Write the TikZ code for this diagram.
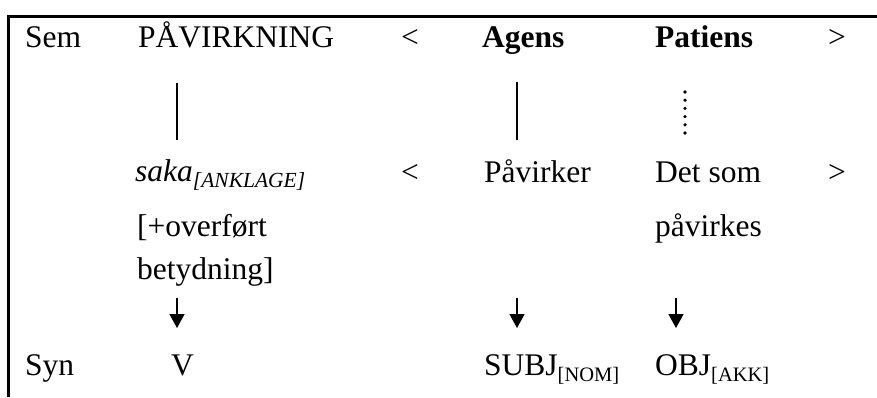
\documentclass[tikz,border=0pt]{standalone}
\usepackage{fontspec}
\setmainfont{Liberation Serif}
\usetikzlibrary{arrows.meta}
\newcommand{\subtext}[1]{\raisebox{-6pt}{\fontsize{20.5}{24}\selectfont #1}}

\begin{document}
\begin{tikzpicture}[x=1pt,y=-1pt,
   every node/.style={anchor=base west,inner sep=0pt,font=\fontsize{31.5}{36}\selectfont},
   frame/.style={line width=2.6pt},
   link/.style={line width=1.6pt},
   dots/.style={line width=3.6pt,line cap=round,dash pattern=on 0pt off 8.2pt},
   arr/.style={line width=1.6pt,-{Triangle[width=15pt,length=14pt]}}]
\useasboundingbox (0,0) rectangle (877,397);
\draw[frame] (8.5,397) -- (8.5,16.5) -- (877,16.5);
% columns for the connectors
\coordinate (c1) at (177,0);
\coordinate (c2) at (517,0);
\coordinate (c3) at (685,0);
\coordinate (c4) at (676,0);
% Sem row
\node (sem) at (25,47) {Sem};
\node (pav) at (138,47) {PÅVIRKNING};
\node (lt1) at (401,47) {<};
\node (agens) at (482,47) {\textbf{Agens}};
\node (patiens) at (655,47) {\textbf{Patiens}};
\node (gt1) at (828,47) {>};
% lexical rows
\node (saka) at (135,181) {\itshape saka\subtext{\fontsize{21.5}{24}\selectfont[ANKLAGE]}};
\node (lt2) at (401,182) {<};
\node (pavirker) at (484,182) {Påvirker};
\node (detsom) at (655,182) {Det som};
\node (gt2) at (828,182) {>};
\node (overfort) at (137,236) {[+overført};
\node (pavirkes) at (655,236) {påvirkes};
\node (betydning) at (137,279) {betydning]};
% Syn row
\node (syn) at (25,375) {Syn};
\node (v) at (171,375) {V};
\node (subj) at (484,375) {SUBJ\subtext{[NOM]}};
\node (obj) at (655,375) {OBJ\subtext{[AKK]}};
\draw[link,shorten <=36pt,shorten >=41pt] (c1 |- pav.base) -- (c1 |- saka.base);
\draw[link,shorten <=35pt,shorten >=42pt] (c2 |- agens.base) -- (c2 |- pavirker.base);
\draw[dots,shorten <=45pt,shorten >=49pt] (c3 |- patiens.base) -- (c3 |- detsom.base);
\draw[arr,shorten <=19pt,shorten >=47pt] (c1 |- betydning.base) -- (c1 |- v.base);
\draw[arr,shorten <=19pt,shorten >=47pt] (c2 |- betydning.base) -- (c2 |- subj.base);
\draw[arr,shorten <=19pt,shorten >=47pt] (c4 |- betydning.base) -- (c4 |- obj.base);
\end{tikzpicture}
\end{document}
